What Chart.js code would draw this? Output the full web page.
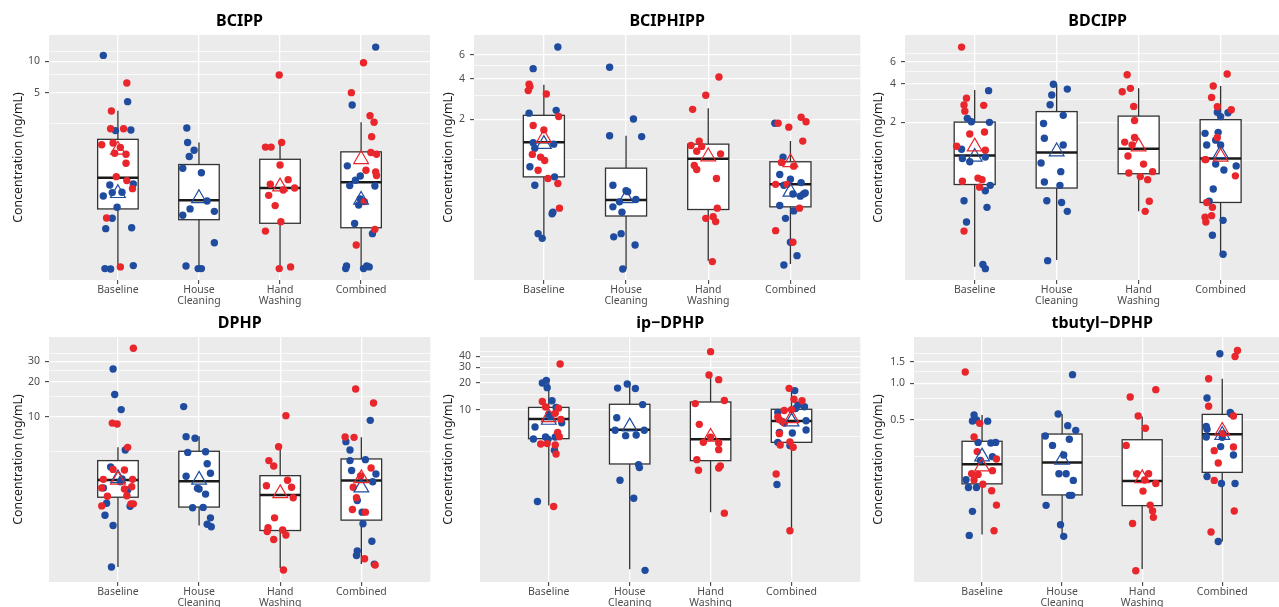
<!DOCTYPE html>
<html>
<head>
<meta charset="utf-8">
<script src="https://cdn.jsdelivr.net/npm/chart.js@4.4.1/dist/chart.umd.min.js"></script>
<style>
  html, body { margin: 0; padding: 0; background: #fff; overflow: hidden; }
  #wrap { position: relative; width: 1279px; height: 607px; overflow: hidden; }
  canvas { position: absolute; }
</style>
</head>
<body>
<div id="wrap">
  <canvas id="c1" width="440" height="320" style="left:0px;top:0px;width:440px;height:320px"></canvas>
  <canvas id="c2" width="440" height="320" style="left:430px;top:0px;width:440px;height:320px"></canvas>
  <canvas id="c3" width="440" height="320" style="left:860px;top:0px;width:440px;height:320px"></canvas>
  <canvas id="c4" width="440" height="320" style="left:0px;top:302px;width:440px;height:320px"></canvas>
  <canvas id="c5" width="440" height="320" style="left:430px;top:302px;width:440px;height:320px"></canvas>
  <canvas id="c6" width="440" height="320" style="left:860px;top:302px;width:440px;height:320px"></canvas>
</div>
<script>
// categories on the x axis (position 1..4)
const categories = ['Baseline', ['House', 'Cleaning'], ['Hand', 'Washing'], 'Combined'];

// ---- BCIPP ----  points are [x with jitter, concentration]
const bcippRed = [[1.11,6.2],[0.92,3.33],[0.91,2.25],[1.07,2.25],[0.80,1.58],[0.94,1.64],[1.03,1.49],[0.96,1.31],[1.10,1.28],[1.10,1.05],[0.98,0.78],[1.11,0.715],[1.18,0.598],[0.86,0.313],[1.03,0.106],
  [2.99,7.4],[2.82,1.50],[2.89,1.50],[3.02,1.66],[3.00,1.01],[2.88,0.66],[3.10,0.73],[3.04,0.581],[3.18,0.607],[2.86,0.516],[2.94,0.411],[3.01,0.288],[2.82,0.234],[2.99,0.102],[3.13,0.106],
  [4.03,9.7],[3.88,5.0],[4.11,3.0],[4.16,2.6],[4.13,1.89],[4.19,1.28],[4.12,1.33],[4.06,0.90],[4.18,0.865],[4.19,0.80],[4.04,0.449],[4.17,0.243],[3.94,0.172]];
const bcippBlue = [[0.82,11.4],[1.12,4.1],[0.97,2.16],[1.16,2.19],[1.19,0.664],[0.90,0.648],[0.82,0.508],[0.93,0.548],[1.05,0.552],[0.99,0.396],[0.93,0.311],[0.85,0.247],[1.17,0.252],[0.84,0.102],[0.91,0.101],[1.19,0.109],
  [1.85,2.29],[1.86,1.66],[1.94,1.40],[1.88,1.22],[1.80,0.94],[2.03,0.85],[2.10,0.455],[1.89,0.382],[2.19,0.362],[1.80,0.332],[2.19,0.181],[1.84,0.108],[1.99,0.102],[2.03,0.102],
  [4.18,13.7],[3.89,3.8],[3.83,0.99],[3.99,0.79],[3.93,0.72],[3.86,0.64],[4.17,0.635],[3.99,0.476],[3.97,0.417],[3.92,0.277],[4.14,0.221],[3.82,0.108],[3.81,0.102],[4.03,0.102],[4.07,0.108],[4.10,0.106]];
// box stats per category: [whisker low, q1, median, q3, whisker high]
const bcippBox = [[0.102,0.382,0.763,1.78,3.36],[0.102,0.301,0.462,1.02,1.66],[0.102,0.278,0.607,1.145,1.66],[0.102,0.252,0.69,1.35,2.6]];
const bcippMeanRed = [[1,1.41],[3,0.625],[4,1.145]];
const bcippMeanBlue = [[1,0.54],[2,0.483],[4,0.466]];
const bcippMajor = [5,10];
const bcippMinor = [2.5,7.5,12.5];
const bcippTickLabels = ['5','10'];
const bcippRange = [0.0793,17.9];

// ---- BCIPHIPP ----
const bciphippRed = [[0.82,3.63],[0.83,3.49],[0.81,3.26],[1.03,3.08],[1.18,2.10],[0.87,1.80],[1.0,1.67],[0.86,1.10],[0.96,1.05],[1.01,0.99],[0.93,0.84],[1.05,0.73],[1.17,0.67],[1.19,0.44],
  [3.13,4.11],[2.97,3.01],[2.81,2.37],[2.89,1.38],[2.79,1.28],[2.92,1.26],[2.86,1.16],[3.15,1.11],[2.83,0.91],[2.86,0.85],[3.10,0.73],[3.11,0.44],[2.97,0.37],[3.06,0.38],[3.09,0.35],[3.05,0.177],
  [3.85,1.87],[4.13,2.07],[4.19,1.92],[3.98,1.75],[4.15,1.38],[3.89,0.96],[4.04,0.90],[3.82,0.66],[3.96,0.66],[4.11,0.44],[3.82,0.30],[4.03,0.246]];
const bciphippBlue = [[1.17,6.86],[0.87,4.74],[0.82,2.22],[1.15,2.33],[0.87,1.34],[1.12,1.31],[0.89,1.22],[0.83,0.89],[1.13,0.75],[0.89,0.65],[1.11,0.41],[1.10,0.40],[0.93,0.285],[0.98,0.263],
  [1.80,4.85],[2.09,2.01],[1.80,1.51],[2.19,1.49],[1.84,0.65],[2.0,0.593],[2.02,0.583],[1.92,0.49],[2.12,0.51],[1.84,0.45],[1.95,0.41],[1.85,0.27],[1.94,0.285],[2.11,0.235],[1.96,0.156],
  [3.81,1.87],[3.91,1.05],[3.87,0.78],[4.0,0.72],[4.13,0.68],[3.92,0.65],[4.03,0.56],[4.12,0.54],[4.16,0.56],[4.18,0.57],[3.87,0.46],[4.04,0.42],[3.94,0.37],[4.0,0.246],[4.08,0.196],[3.92,0.167]];
const bciphippBox = [[0.27,0.75,1.35,2.14,3.61],[0.156,0.385,0.506,0.87,1.51],[0.18,0.43,1.02,1.31,2.41],[0.17,0.45,0.66,0.97,1.38]];
const bciphippMeanRed = [[1,1.45],[3,1.06],[4,0.96]];
const bciphippMeanBlue = [[1,1.31],[2,0.52],[4,0.58]];
const bciphippMajor = [2,4,6];
const bciphippMinor = [1,3,5];
const bciphippTickLabels = ['2','4','6'];
const bciphippRange = [0.1294,8.41];

// ---- BDCIPP ----
const bdcippRed = [[0.84,7.8],[0.90,3.1],[0.87,2.74],[0.88,2.45],[1.11,2.72],[0.94,1.62],[1.12,1.68],[0.78,1.30],[1.13,1.21],[0.85,0.69],[1.04,0.73],[1.09,0.71],[1.06,0.62],[0.87,0.28],
  [2.86,4.73],[2.80,3.48],[2.90,3.70],[2.94,2.67],[2.95,2.07],[2.95,1.52],[2.83,1.40],[2.92,1.33],[2.87,1.09],[3.06,0.94],[3.17,0.82],[2.88,0.80],[3.02,0.75],[3.11,0.71],[3.13,0.48],[3.08,0.40],
  [4.08,4.80],[3.91,3.86],[3.89,3.14],[3.96,2.65],[4.13,2.51],[3.96,1.52],[3.81,1.02],[3.82,1.02],[4.18,0.76],[3.83,0.47],[3.90,0.43],[3.81,0.36],[3.82,0.33],[3.89,0.37]];
const bdcippBlue = [[1.17,3.55],[0.91,2.15],[0.96,2.02],[1.18,2.0],[0.84,1.23],[0.94,0.98],[0.85,1.04],[1.13,1.07],[1.19,0.64],[1.13,0.58],[0.87,0.485],[1.15,0.43],[0.90,0.33],[1.10,0.153],[1.13,0.142],
  [1.96,3.98],[1.94,3.28],[2.13,3.65],[1.92,2.75],[2.08,2.27],[1.84,1.96],[1.85,1.50],[2.08,1.33],[1.81,0.96],[2.05,0.82],[1.85,0.68],[2.04,0.64],[1.88,0.485],[2.06,0.47],[2.13,0.40],[1.89,0.164],
  [4.09,2.38],[3.96,2.40],[4.0,2.22],[3.81,1.64],[3.97,1.67],[3.94,1.45],[3.83,1.33],[4.0,1.33],[3.94,0.94],[4.04,0.845],[4.19,0.91],[3.91,0.60],[3.86,0.48],[4.03,0.34],[3.90,0.26],[4.03,0.184]];
const bdcippBox = [[0.147,0.65,1.10,2.01,3.59],[0.166,0.61,1.16,2.43,3.98],[0.40,0.79,1.24,2.24,3.70],[0.187,0.47,1.04,2.10,3.86]];
const bdcippMeanRed = [[1,1.29],[3,1.29],[4,1.07]];
const bdcippMeanBlue = [[1,1.07],[2,1.18],[4,1.14]];
const bdcippMajor = [2,4,6];
const bdcippMinor = [1,3,5,7];
const bdcippTickLabels = ['2','4','6'];
const bdcippRange = [0.1156,9.71];

// ---- DPHP ----
const dphpRed = [[1.19,38.7],[0.93,8.8],[0.99,8.65],[1.12,5.45],[0.94,3.52],[1.08,3.48],[0.82,2.89],[1.18,2.89],[0.80,2.44],[1.08,2.39],[1.17,2.50],[0.87,2.07],[1.11,2.09],[0.80,1.71],[1.16,1.78],[1.19,1.78],
  [3.07,10.2],[2.98,5.52],[2.86,4.19],[2.92,3.77],[3.09,2.84],[2.83,2.55],[3.14,2.47],[3.16,2.01],[2.93,1.35],[2.85,1.11],[2.84,1.03],[3.03,1.06],[3.07,0.96],[2.92,0.88],[3.04,0.48],
  [3.93,17.3],[4.15,13.1],[3.80,6.68],[3.91,6.64],[4.12,3.62],[3.99,3.09],[3.90,2.47],[3.94,2.01],[3.89,1.59],[4.05,1.51],[4.04,0.60],[4.17,0.53]];
const dphpBlue = [[0.94,25.7],[0.96,15.5],[1.04,11.5],[1.09,5.17],[0.91,3.69],[1.05,2.91],[1.12,2.34],[0.82,2.44],[1.03,2.76],[0.86,1.80],[1.15,1.70],[0.84,1.42],[0.94,1.16],[0.92,0.51],
  [1.81,12.2],[1.84,6.73],[1.95,6.52],[1.86,4.93],[2.08,5.0],[2.10,3.94],[2.14,3.26],[1.84,3.07],[1.98,2.42],[2.0,2.39],[2.08,2.16],[1.92,1.65],[2.05,1.66],[2.14,1.35],[2.10,1.19],[2.15,1.13],
  [4.11,9.3],[3.81,6.10],[3.86,5.17],[3.86,4.19],[4.05,4.27],[3.88,3.44],[4.18,3.21],[4.14,2.76],[3.95,1.90],[4.01,1.51],[4.02,1.20],[4.13,0.85],[3.95,0.70],[3.94,0.64],[4.16,0.54]];
const dphpBox = [[0.51,2.03,2.86,4.19,5.45],[1.16,1.67,2.78,5.04,6.78],[0.50,1.05,2.12,3.11,5.52],[0.54,1.29,2.82,4.33,6.64]];
const dphpMeanRed = [[1,2.86],[3,2.19],[4,2.95]];
const dphpMeanBlue = [[1,2.95],[2,2.86],[4,2.45]];
const dphpMajor = [10,20,30];
const dphpMinor = [5,15,25,35];
const dphpTickLabels = ['10','20','30'];
const dphpRange = [0.379,48.4];

// ---- ip-DPHP ----
const ipdphpRed = [[1.14,32.7],[0.92,12.4],[0.96,10.7],[1.12,10.4],[1.08,9.1],[1.15,7.78],[1.11,5.55],[1.13,4.96],[0.90,4.10],[0.98,4.14],[1.08,4.0],[1.09,3.16],[1.06,0.81],
  [3.0,45.1],[2.98,24.6],[3.10,21.8],[2.81,11.7],[3.17,12.7],[2.86,6.83],[2.91,4.28],[3.10,4.21],[3.0,4.88],[3.10,3.54],[2.83,2.73],[2.85,2.07],[3.12,2.32],[3.10,2.20],[3.17,0.68],
  [3.97,17.4],[4.03,13.1],[4.13,12.6],[3.91,9.8],[3.83,8.27],[3.85,7.71],[4.0,10.0],[3.91,7.07],[3.85,5.36],[3.86,3.99],[3.98,4.32],[4.02,3.76],[3.81,1.88],[3.98,0.43]];
const ipdphpBlue = [[0.97,21.4],[0.92,20.0],[0.98,17.7],[1.04,12.6],[1.09,10.6],[1.0,8.9],[1.02,8.34],[1.16,7.13],[0.83,6.38],[0.81,4.67],[0.96,4.92],[0.99,4.63],[1.08,4.92],[1.07,3.48],[0.86,0.92],
  [1.97,19.5],[1.85,17.5],[2.07,17.3],[2.16,11.4],[1.84,8.12],[1.82,5.85],[2.18,5.85],[1.95,5.09],[2.08,5.18],[2.11,2.40],[2.12,2.22],[1.88,1.60],[2.05,1.0],[2.19,0.154],
  [4.04,16.4],[4.08,11.3],[4.16,10.8],[4.05,10.3],[3.83,9.33],[4.18,7.51],[4.18,5.90],[4.01,5.46],[3.85,5.55],[3.83,4.28],[3.98,3.93],[3.82,1.43],[3.89,7.32]];
const ipdphpBox = [[0.83,4.71,7.85,10.6,20.2],[0.158,2.44,5.95,11.5,19.5],[0.695,2.66,4.63,12.2,24.6],[0.43,4.28,7.45,10.1,16.4]];
const ipdphpMeanRed = [[1,8.2],[3,4.92],[4,7.98]];
const ipdphpMeanBlue = [[1,7.64],[2,6.43],[4,7.32]];
const ipdphpMajor = [10,20,30,40];
const ipdphpMinor = [5,15,25,35,45];
const ipdphpTickLabels = ['10','20','30','40'];
const ipdphpRange = [0.1138,66.0];

// ---- tbutyl-DPHP ----
const tbutylRed = [[0.79,1.24],[0.90,0.359],[0.97,0.466],[0.94,0.272],[1.18,0.236],[1.13,0.189],[0.87,0.178],[0.95,0.176],[0.90,0.158],[1.01,0.146],[1.12,0.129],[1.18,0.098],[1.15,0.060],
  [3.17,0.886],[2.85,0.770],[2.95,0.536],[3.04,0.424],[2.80,0.306],[2.93,0.178],[3.08,0.178],[3.03,0.158],[3.17,0.148],[3.01,0.128],[3.10,0.098],[3.13,0.0875],[3.14,0.0776],[2.88,0.069],[2.92,0.028],
  [4.19,1.87],[4.16,1.67],[3.83,1.09],[3.83,0.645],[4.14,0.536],[4.01,0.385],[4.14,0.297],[3.90,0.277],[3.95,0.219],[3.90,0.157],[4.15,0.0875],[3.86,0.0586]];
const tbutylBlue = [[0.90,0.547],[0.88,0.488],[0.93,0.497],[1.07,0.486],[0.95,0.324],[1.11,0.320],[1.17,0.324],[1.13,0.247],[0.98,0.230],[0.80,0.159],[0.83,0.137],[0.93,0.137],[0.88,0.087],[0.84,0.055],
  [2.13,1.18],[1.95,0.557],[2.07,0.446],[2.17,0.408],[1.79,0.366],[2.09,0.344],[1.88,0.306],[2.02,0.255],[1.96,0.178],[2.05,0.178],[2.14,0.157],[2.09,0.118],[2.12,0.118],[1.80,0.0975],[1.98,0.0674],[2.02,0.054],
  [3.97,1.76],[3.81,0.756],[4.10,0.575],[4.11,0.557],[3.80,0.440],[3.81,0.416],[3.80,0.359],[4.0,0.357],[3.98,0.299],[4.14,0.255],[3.81,0.169],[3.99,0.148],[4.16,0.148],[3.95,0.049]];
const tbutylBox = [[0.056,0.147,0.214,0.331,0.547],[0.055,0.119,0.221,0.380,0.557],[0.029,0.097,0.155,0.341,0.53],[0.049,0.183,0.378,0.553,1.09]];
const tbutylMeanRed = [[1,0.204],[3,0.163],[4,0.403]];
const tbutylMeanBlue = [[1,0.247],[2,0.232],[4,0.373]];
const tbutylMajor = [0.5,1.0,1.5];
const tbutylMinor = [0.25,0.75,1.25,1.75];
const tbutylTickLabels = ['0.5','1.0','1.5'];
const tbutylRange = [0.0226,2.42];

const RED = '#e8262b';
const BLUE = '#1f4c9e';
Chart.defaults.font.family = "'Noto Sans', 'Open Sans', sans-serif";

// panel list: id, title, data refs, and where the grey panel sits inside its canvas
const panels = [
  {id:'c1', title:'BCIPP', red:bcippRed, blue:bcippBlue, box:bcippBox, mRed:bcippMeanRed, mBlue:bcippMeanBlue, major:bcippMajor, minor:bcippMinor, labels:bcippTickLabels, range:bcippRange, left:49, right:430},
  {id:'c2', title:'BCIPHIPP', red:bciphippRed, blue:bciphippBlue, box:bciphippBox, mRed:bciphippMeanRed, mBlue:bciphippMeanBlue, major:bciphippMajor, minor:bciphippMinor, labels:bciphippTickLabels, range:bciphippRange, left:44, right:431},
  {id:'c3', title:'BDCIPP', red:bdcippRed, blue:bdcippBlue, box:bdcippBox, mRed:bdcippMeanRed, mBlue:bdcippMeanBlue, major:bdcippMajor, minor:bdcippMinor, labels:bdcippTickLabels, range:bdcippRange, left:45, right:433},
  {id:'c4', title:'DPHP', red:dphpRed, blue:dphpBlue, box:dphpBox, mRed:dphpMeanRed, mBlue:dphpMeanBlue, major:dphpMajor, minor:dphpMinor, labels:dphpTickLabels, range:dphpRange, left:49, right:431},
  {id:'c5', title:'ip\u2212DPHP', red:ipdphpRed, blue:ipdphpBlue, box:ipdphpBox, mRed:ipdphpMeanRed, mBlue:ipdphpMeanBlue, major:ipdphpMajor, minor:ipdphpMinor, labels:ipdphpTickLabels, range:ipdphpRange, left:50, right:431},
  {id:'c6', title:'tbutyl\u2212DPHP', red:tbutylRed, blue:tbutylBlue, box:tbutylBox, mRed:tbutylMeanRed, mBlue:tbutylMeanBlue, major:tbutylMajor, minor:tbutylMinor, labels:tbutylTickLabels, range:tbutylRange, left:54, right:433}
];

const TOP = 35, BOTTOM = 280, XAXIS_H = 30;

function toPoints(arr) {
  return arr.map(function(d) { return {x: d[0], y: d[1]}; });
}

// background, boxes and text for one panel
function panelPlugin(p) {
  return {
    id: 'panelDecor',
    beforeDraw: function(chart) {
      var a = chart.chartArea, ctx = chart.ctx;
      ctx.save();
      ctx.fillStyle = '#ebebeb';
      ctx.fillRect(a.left, a.top, a.right - a.left, a.bottom - a.top);
      ctx.restore();
    },
    beforeDatasetsDraw: function(chart) {
      var ctx = chart.ctx, xs = chart.scales.x, ys = chart.scales.y;
      ctx.save();
      p.box.forEach(function(b, i) {
        var cx = xs.getPixelForValue(i + 1);
        var x0 = xs.getPixelForValue(i + 0.75);
        var x1 = xs.getPixelForValue(i + 1.25);
        var lo = ys.getPixelForValue(b[0]), q1 = ys.getPixelForValue(b[1]);
        var med = ys.getPixelForValue(b[2]), q3 = ys.getPixelForValue(b[3]);
        var hi = ys.getPixelForValue(b[4]);
        ctx.strokeStyle = '#333333';
        ctx.lineWidth = 1.3;
        ctx.beginPath();
        ctx.moveTo(cx, hi); ctx.lineTo(cx, q3);
        ctx.moveTo(cx, q1); ctx.lineTo(cx, lo);
        ctx.stroke();
        ctx.fillStyle = '#ffffff';
        ctx.fillRect(x0, q3, x1 - x0, q1 - q3);
        ctx.strokeRect(x0, q3, x1 - x0, q1 - q3);
        ctx.strokeStyle = '#1a1a1a';
        ctx.lineWidth = 2.5;
        ctx.beginPath();
        ctx.moveTo(x0, med); ctx.lineTo(x1, med);
        ctx.stroke();
      });
      ctx.restore();
    },
    afterDraw: function(chart) {
      var a = chart.chartArea, ctx = chart.ctx;
      ctx.save();
      ctx.fillStyle = '#000000';
      ctx.font = "bold 16px 'Noto Sans'";
      ctx.textAlign = 'center';
      ctx.textBaseline = 'middle';
      ctx.fillText(p.title, (a.left + a.right) / 2, 21);
      ctx.translate(18.5, (a.top + a.bottom) / 2);
      ctx.rotate(-Math.PI / 2);
      ctx.fillStyle = '#1a1a1a';
      ctx.font = "12.3px 'Noto Sans'";
      ctx.fillText('Concentration (ng/mL)', 0, 0);
      ctx.restore();
    }
  };
}

function buildPanel(p) {
  var canvas = document.getElementById(p.id);
  var W = canvas.width, H = canvas.height;
  var allTicks = p.major.concat(p.minor).sort(function(a, b) { return a - b; });
  var majorIndex = function(v) {
    return p.major.findIndex(function(m) { return Math.abs(m - v) < 1e-9; });
  };

  new Chart(canvas, {
    type: 'scatter',
    data: {
      datasets: [
        {data: toPoints(p.mRed), pointStyle: 'triangle', pointRadius: 8.5, borderWidth: 1.2,
         borderColor: RED, backgroundColor: 'rgba(0,0,0,0)', order: 0},
        {data: toPoints(p.mBlue), pointStyle: 'triangle', pointRadius: 8.5, borderWidth: 1.2,
         borderColor: BLUE, backgroundColor: 'rgba(0,0,0,0)', order: 0},
        {data: toPoints(p.red), pointRadius: 3.7, borderWidth: 0, backgroundColor: RED, order: 1},
        {data: toPoints(p.blue), pointRadius: 3.7, borderWidth: 0, backgroundColor: BLUE, order: 2}
      ]
    },
    options: {
      responsive: false,
      animation: false,
      events: [],
      layout: {padding: {top: TOP, left: 0, right: W - p.right, bottom: H - BOTTOM - XAXIS_H}},
      plugins: {legend: {display: false}, tooltip: {enabled: false}, title: {display: false}},
      scales: {
        x: {
          type: 'linear', min: 0.15, max: 4.85, bounds: 'data',
          afterBuildTicks: function(s) { s.ticks = [1, 2, 3, 4].map(function(v) { return {value: v}; }); },
          afterFit: function(s) { s.height = XAXIS_H; },
          border: {display: false},
          grid: {color: '#ffffff', lineWidth: 1.3, tickLength: 4, tickColor: '#333333', tickWidth: 1},
          ticks: {autoSkip: false, maxRotation: 0, padding: 0, color: '#4d4d4d',
                  font: {size: 10.5, lineHeight: 1.1},
                  callback: function(v) { return categories[v - 1]; }}
        },
        y: {
          type: 'logarithmic', min: p.range[0], max: p.range[1], bounds: 'data',
          afterBuildTicks: function(s) { s.ticks = allTicks.map(function(v) { return {value: v}; }); },
          afterFit: function(s) { s.width = p.left; },
          border: {display: false},
          grid: {
            color: '#ffffff',
            lineWidth: function(c) { return c.tick && majorIndex(c.tick.value) >= 0 ? 1.3 : 0.7; },
            tickLength: 4,
            tickWidth: 1,
            tickColor: function(c) { return c.tick && majorIndex(c.tick.value) >= 0 ? '#333333' : 'rgba(0,0,0,0)'; }
          },
          ticks: {autoSkip: false, padding: 5, color: '#4d4d4d', font: {size: 10.5},
                  callback: function(v) { var i = majorIndex(v); return i >= 0 ? p.labels[i] : ''; }}
        }
      }
    },
    plugins: [panelPlugin(p)]
  });
}

panels.forEach(buildPanel);
</script>
</body>
</html>
